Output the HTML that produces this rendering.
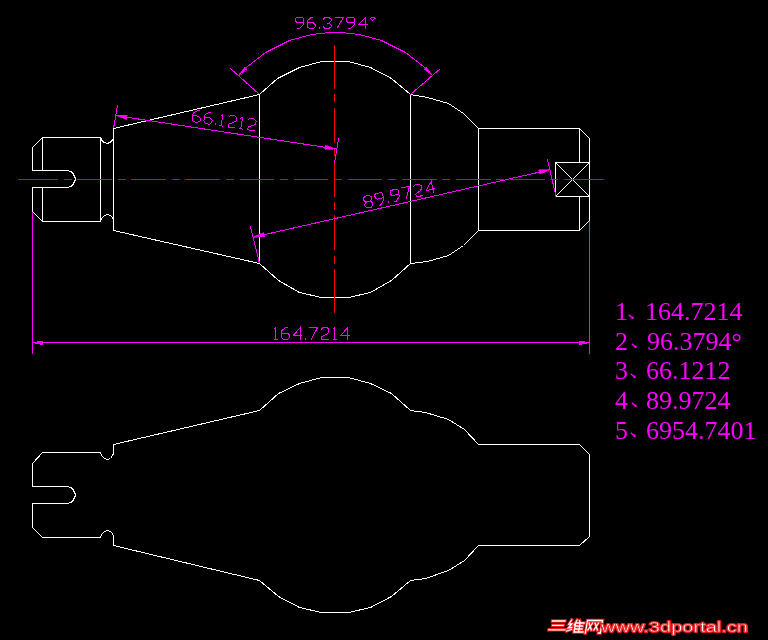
<!DOCTYPE html>
<html><head><meta charset="utf-8">
<style>
html,body{margin:0;padding:0;background:#000;}
body{width:768px;height:640px;overflow:hidden;position:relative;}
svg{position:absolute;left:0;top:0;}
.t{position:absolute;font-family:"Liberation Serif",serif;font-size:26px;color:#ff00ff;white-space:pre;line-height:1;will-change:transform;}
.wm{position:absolute;font-family:"Liberation Sans",sans-serif;font-weight:bold;font-style:italic;font-size:15px;color:#fff;-webkit-text-stroke:0;white-space:pre;}
</style></head><body>
<svg width="768" height="640" viewBox="0 0 768 640" shape-rendering="crispEdges" stroke-width="1">
<polygon points="42.50,137.50 100.50,137.50 101.50,139.50 102.50,141.50 104.50,142.50 107.50,143.50 109.50,142.50 111.50,141.50 112.50,139.50 113.50,138.50 113.50,128.50 259.50,94.50 277.50,78.50 299.50,67.50 321.50,61.50 348.50,61.50 370.50,67.50 391.50,78.50 410.50,94.50 427.50,97.50 448.50,103.50 463.50,113.50 478.50,128.50 579.50,128.50 589.50,138.50 589.50,220.50 579.50,230.50 478.50,230.50 463.50,245.50 448.50,255.50 427.50,261.50 410.50,263.50 391.50,280.50 370.50,292.50 348.50,297.50 321.50,297.50 299.50,292.50 278.50,280.50 259.50,263.50 113.50,230.50 113.50,219.50 112.50,217.50 110.50,215.50 107.50,214.50 104.50,215.50 101.50,218.50 100.50,221.50 42.50,221.50 32.50,211.50 32.50,187.50 67.50,187.50 70.50,186.50 72.50,185.50 73.50,183.50 74.50,181.50 75.50,179.50 75.50,178.50 74.50,176.50 73.50,174.50 72.50,172.50 70.50,171.50 67.50,170.50 32.50,170.50 32.50,147.50" fill="none" stroke="#ffffff"/>
<line x1="42.5" y1="137.5" x2="42.5" y2="170.5" stroke="#ffffff"/>
<line x1="42.5" y1="187.5" x2="42.5" y2="221.5" stroke="#ffffff"/>
<line x1="100.5" y1="137.5" x2="100.5" y2="221.5" stroke="#ffffff"/>
<line x1="113.5" y1="138.5" x2="113.5" y2="219.5" stroke="#ffffff"/>
<line x1="259.5" y1="94.5" x2="259.5" y2="263.5" stroke="#ffffff"/>
<line x1="410.5" y1="94.5" x2="410.5" y2="263.5" stroke="#ffffff"/>
<line x1="478.5" y1="128.5" x2="478.5" y2="230.5" stroke="#ffffff"/>
<line x1="579.5" y1="128.5" x2="579.5" y2="162.5" stroke="#ffffff"/>
<line x1="579.5" y1="196.5" x2="579.5" y2="230.5" stroke="#ffffff"/>
<polygon points="555.50,162.50 589.50,162.50 589.50,196.50 555.50,196.50" fill="none" stroke="#ffffff"/>
<line x1="555.5" y1="162.5" x2="589.5" y2="196.5" stroke="#ffffff"/>
<line x1="589.5" y1="162.5" x2="555.5" y2="196.5" stroke="#ffffff"/>
<polygon points="42.50,452.50 100.50,452.50 101.50,455.50 104.50,458.50 107.50,459.50 110.50,458.50 112.50,455.50 113.50,453.50 113.50,444.50 259.50,410.50 278.50,393.50 299.50,383.50 321.50,377.50 348.50,377.50 370.50,383.50 391.50,393.50 410.50,410.50 425.50,412.50 448.50,419.50 464.50,429.50 478.50,444.50 579.50,444.50 589.50,454.50 589.50,536.50 579.50,545.50 478.50,545.50 464.50,560.50 448.50,570.50 425.50,578.50 410.50,580.50 391.50,596.50 370.50,607.50 348.50,612.50 321.50,612.50 299.50,607.50 278.50,596.50 259.50,580.50 113.50,545.50 113.50,536.50 112.50,533.50 110.50,531.50 107.50,530.50 104.50,531.50 101.50,534.50 100.50,537.50 42.50,537.50 32.50,527.50 32.50,503.50 67.50,503.50 70.50,502.50 72.50,501.50 73.50,499.50 74.50,497.50 75.50,495.50 75.50,494.50 74.50,492.50 73.50,490.50 72.50,488.50 70.50,487.50 67.50,486.50 32.50,486.50 32.50,463.50" fill="none" stroke="#ffffff"/>
<rect x="18" y="179" width="40" height="1" fill="#ff0000"/>
<rect x="64" y="179" width="8" height="1" fill="#ff0000"/>
<rect x="77" y="179" width="35" height="1" fill="#ff0000"/>
<rect x="118" y="179" width="8" height="1" fill="#ff0000"/>
<rect x="131" y="179" width="35" height="1" fill="#ff0000"/>
<rect x="172" y="179" width="8" height="1" fill="#ff0000"/>
<rect x="185" y="179" width="35" height="1" fill="#ff0000"/>
<rect x="226" y="179" width="8" height="1" fill="#ff0000"/>
<rect x="240" y="179" width="34" height="1" fill="#ff0000"/>
<rect x="280" y="179" width="8" height="1" fill="#ff0000"/>
<rect x="294" y="179" width="34" height="1" fill="#ff0000"/>
<rect x="334" y="179" width="8" height="1" fill="#ff0000"/>
<rect x="348" y="179" width="34" height="1" fill="#ff0000"/>
<rect x="388" y="179" width="8" height="1" fill="#ff0000"/>
<rect x="402" y="179" width="35" height="1" fill="#ff0000"/>
<rect x="442" y="179" width="8" height="1" fill="#ff0000"/>
<rect x="456" y="179" width="35" height="1" fill="#ff0000"/>
<rect x="496" y="179" width="8" height="1" fill="#ff0000"/>
<rect x="510" y="179" width="35" height="1" fill="#ff0000"/>
<rect x="550" y="179" width="8" height="1" fill="#ff0000"/>
<rect x="564" y="179" width="40" height="1" fill="#ff0000"/>
<rect x="334" y="45" width="1" height="44" fill="#ff0000"/>
<rect x="334" y="94" width="1" height="8" fill="#ff0000"/>
<rect x="334" y="108" width="1" height="35" fill="#ff0000"/>
<rect x="334" y="148" width="1" height="8" fill="#ff0000"/>
<rect x="334" y="161" width="1" height="36" fill="#ff0000"/>
<rect x="334" y="202" width="1" height="8" fill="#ff0000"/>
<rect x="334" y="215" width="1" height="35" fill="#ff0000"/>
<rect x="334" y="256" width="1" height="8" fill="#ff0000"/>
<rect x="334" y="269" width="1" height="44" fill="#ff0000"/>
<line x1="32.5" y1="211.5" x2="32.5" y2="353.5" stroke="#ff00ff"/>
<line x1="589.5" y1="220.5" x2="589.5" y2="353.5" stroke="#ff00ff"/>
<line x1="32.5" y1="342.5" x2="589.5" y2="342.5" stroke="#ff00ff"/>
<rect x="37" y="341" width="6" height="1" fill="#ff00ff"/>
<rect x="35" y="342" width="8" height="1" fill="#ff00ff"/>
<rect x="35" y="343" width="8" height="1" fill="#ff00ff"/>
<rect x="40" y="344" width="3" height="1" fill="#ff00ff"/>
<rect x="579" y="341" width="6" height="1" fill="#ff00ff"/>
<rect x="579" y="342" width="9" height="1" fill="#ff00ff"/>
<rect x="579" y="343" width="8" height="1" fill="#ff00ff"/>
<rect x="579" y="344" width="3" height="1" fill="#ff00ff"/>
<line x1="113.5" y1="128.5" x2="117.5" y2="105.5" stroke="#ff00ff"/>
<line x1="334.5" y1="163.5" x2="338.5" y2="138.5" stroke="#ff00ff"/>
<line x1="116.0" y1="115.6" x2="335.8" y2="148.9" stroke="#ff00ff"/>
<polygon points="116.00,115.60 126.55,119.42 127.21,115.07" fill="#ff00ff" stroke="#ff00ff" stroke-width="0.6"/>
<polygon points="335.80,148.90 325.25,145.08 324.59,149.43" fill="#ff00ff" stroke="#ff00ff" stroke-width="0.6"/>
<line x1="259.5" y1="263.5" x2="250.5" y2="226.5" stroke="#ff00ff"/>
<line x1="556.0" y1="196.5" x2="547.5" y2="159.5" stroke="#ff00ff"/>
<line x1="253.5" y1="237.1" x2="550.0" y2="169.7" stroke="#ff00ff"/>
<polygon points="253.50,237.10 264.71,236.81 263.74,232.52" fill="#ff00ff" stroke="#ff00ff" stroke-width="0.6"/>
<polygon points="550.00,169.70 538.79,169.99 539.76,174.28" fill="#ff00ff" stroke="#ff00ff" stroke-width="0.6"/>
<line x1="259.5" y1="94.5" x2="230.5" y2="68.5" stroke="#ff00ff"/>
<line x1="410.5" y1="94.5" x2="440.5" y2="68.5" stroke="#ff00ff"/>
<polyline points="238.50,75.50 247.50,66.50 265.50,52.50 289.50,40.50 311.50,34.50 329.50,32.50 341.50,32.50 359.50,34.50 381.50,40.50 405.50,52.50 423.50,66.50 432.50,75.50" fill="none" stroke="#ff00ff"/>
<polygon points="238.50,75.50 247.13,69.28 244.72,66.87" fill="#ff00ff" stroke="#ff00ff" stroke-width="0.6"/>
<polygon points="432.50,75.50 426.28,66.87 423.87,69.28" fill="#ff00ff" stroke="#ff00ff" stroke-width="0.6"/>
<g transform="translate(295,17) rotate(0.0) translate(0.5,0.5)" fill="none" stroke="#ff00ff"><path transform="translate(0.00,0)" d="M8,5.04 L1.5,5.04 L0,3.67 L0,0.92 L1,0.00 L7,0.00 L8,0.92 L8,6.88 L4,11.00 L1.5,11.00"/><path transform="translate(11.80,0)" d="M6,0.00 L4,0.00 L0,3.21 L0,9.17 L2,11.00 L6,11.00 L8,9.17 L8,7.06 L6,5.22 L0,5.22"/><path transform="translate(23.60,0)" d="M0,9.17 L0,11.00"/><path transform="translate(27.60,0)" d="M0,1.83 L2,0.00 L6,0.00 L8,1.83 L8,3.67 L6,5.50 L4,5.50"/><path transform="translate(27.60,0)" d="M6,5.50 L8,7.33 L8,9.17 L6,11.00 L2,11.00 L0,9.17"/><path transform="translate(39.40,0)" d="M0,0.00 L8.5,0.00 L2,11.00"/><path transform="translate(51.20,0)" d="M8,5.04 L1.5,5.04 L0,3.67 L0,0.92 L1,0.00 L7,0.00 L8,0.92 L8,6.88 L4,11.00 L1.5,11.00"/><path transform="translate(63.00,0)" d="M7,11.00 L7,0.00 L0,7.33 L9,7.33"/><path transform="translate(74.80,0)" d="M1,0.00 L3.5,0.00 L4.5,1.01 L2.2,3.12 L0,1.01 Z"/></g>
<g transform="translate(273,327) rotate(0.0) translate(0.5,0.5)" fill="none" stroke="#ff00ff"><path transform="translate(0.00,0)" d="M0,2.00 L2,0.00 L2,12.00"/><path transform="translate(0.00,0)" d="M0,12.00 L4,12.00"/><path transform="translate(8.00,0)" d="M6,0.00 L4,0.00 L0,3.50 L0,10.00 L2,12.00 L6,12.00 L8,10.00 L8,7.70 L6,5.70 L0,5.70"/><path transform="translate(19.80,0)" d="M7,12.00 L7,0.00 L0,8.00 L9,8.00"/><path transform="translate(31.60,0)" d="M0,10.00 L0,12.00"/><path transform="translate(35.60,0)" d="M0,0.00 L8.5,0.00 L2,12.00"/><path transform="translate(47.40,0)" d="M0,2.00 L2,0.00 L6,0.00 L8,2.00 L8,5.00 L5.5,7.00 L1,9.00 L1,12.00 L8,12.00"/><path transform="translate(59.20,0)" d="M0,2.00 L2,0.00 L2,12.00"/><path transform="translate(59.20,0)" d="M0,12.00 L4,12.00"/><path transform="translate(67.20,0)" d="M7,12.00 L7,0.00 L0,8.00 L9,8.00"/></g>
<g transform="translate(193.27,109.13) rotate(8.48) translate(0.5,0.5)" fill="none" stroke="#ff00ff"><path transform="translate(0.00,0)" d="M6,0.00 L4,0.00 L0,3.50 L0,10.00 L2,12.00 L6,12.00 L8,10.00 L8,7.70 L6,5.70 L0,5.70"/><path transform="translate(11.80,0)" d="M6,0.00 L4,0.00 L0,3.50 L0,10.00 L2,12.00 L6,12.00 L8,10.00 L8,7.70 L6,5.70 L0,5.70"/><path transform="translate(23.60,0)" d="M0,10.00 L0,12.00"/><path transform="translate(27.60,0)" d="M0,2.00 L2,0.00 L2,12.00"/><path transform="translate(27.60,0)" d="M0,12.00 L4,12.00"/><path transform="translate(35.60,0)" d="M0,2.00 L2,0.00 L6,0.00 L8,2.00 L8,5.00 L5.5,7.00 L1,9.00 L1,12.00 L8,12.00"/><path transform="translate(47.40,0)" d="M0,2.00 L2,0.00 L2,12.00"/><path transform="translate(47.40,0)" d="M0,12.00 L4,12.00"/><path transform="translate(55.40,0)" d="M0,2.00 L2,0.00 L6,0.00 L8,2.00 L8,5.00 L5.5,7.00 L1,9.00 L1,12.00 L8,12.00"/></g>
<g transform="translate(362.36,196.29) rotate(-12.7) translate(0.5,0.5)" fill="none" stroke="#ff00ff"><path transform="translate(0.00,0)" d="M2,0.00 L6,0.00 L8,2.00 L8,4.00 L6,6.00 L2,6.00 L0,8.00 L0,10.00 L2,12.00 L6,12.00 L8,10.00 L8,8.00 L6,6.00"/><path transform="translate(0.00,0)" d="M2,6.00 L0,4.00 L0,2.00 L2,0.00"/><path transform="translate(11.80,0)" d="M8,5.50 L1.5,5.50 L0,4.00 L0,1.00 L1,0.00 L7,0.00 L8,1.00 L8,7.50 L4,12.00 L1.5,12.00"/><path transform="translate(23.60,0)" d="M0,10.00 L0,12.00"/><path transform="translate(27.60,0)" d="M8,5.50 L1.5,5.50 L0,4.00 L0,1.00 L1,0.00 L7,0.00 L8,1.00 L8,7.50 L4,12.00 L1.5,12.00"/><path transform="translate(39.40,0)" d="M0,0.00 L8.5,0.00 L2,12.00"/><path transform="translate(51.20,0)" d="M0,2.00 L2,0.00 L6,0.00 L8,2.00 L8,5.00 L5.5,7.00 L1,9.00 L1,12.00 L8,12.00"/><path transform="translate(63.00,0)" d="M7,12.00 L7,0.00 L0,8.00 L9,8.00"/></g>
</svg>
<div class="t" style="left:615.2px;top:299.23px">1</div>
<div class="t" style="left:644.7px;top:299.23px">164.7214</div>
<svg style="left:627.70px;top:313.50px" width="8" height="8"><path d="M0.8,0.8 L3.5,3.2" stroke="#ff00ff" stroke-width="1.3" fill="none"/><path d="M3,2.6 L5.6,2.6 L5.6,5 L3.6,5 Z" fill="#ff00ff"/></svg>
<div class="t" style="left:615.2px;top:328.83px">2</div>
<div class="t" style="left:646.7px;top:328.83px">96.3794°</div>
<svg style="left:630.70px;top:343.10px" width="8" height="8"><path d="M0.8,0.8 L3.5,3.2" stroke="#ff00ff" stroke-width="1.3" fill="none"/><path d="M3,2.6 L5.6,2.6 L5.6,5 L3.6,5 Z" fill="#ff00ff"/></svg>
<div class="t" style="left:615.2px;top:358.43px">3</div>
<div class="t" style="left:646.0px;top:358.43px">66.1212</div>
<svg style="left:630.00px;top:372.70px" width="8" height="8"><path d="M0.8,0.8 L3.5,3.2" stroke="#ff00ff" stroke-width="1.3" fill="none"/><path d="M3,2.6 L5.6,2.6 L5.6,5 L3.6,5 Z" fill="#ff00ff"/></svg>
<div class="t" style="left:615.2px;top:388.03px">4</div>
<div class="t" style="left:646.3px;top:388.03px">89.9724</div>
<svg style="left:630.70px;top:402.30px" width="8" height="8"><path d="M0.8,0.8 L3.5,3.2" stroke="#ff00ff" stroke-width="1.3" fill="none"/><path d="M3,2.6 L5.6,2.6 L5.6,5 L3.6,5 Z" fill="#ff00ff"/></svg>
<div class="t" style="left:615.2px;top:417.62px">5</div>
<div class="t" style="left:645.8px;top:417.62px">6954.7401</div>
<svg style="left:630.00px;top:431.90px" width="8" height="8"><path d="M0.8,0.8 L3.5,3.2" stroke="#ff00ff" stroke-width="1.3" fill="none"/><path d="M3,2.6 L5.6,2.6 L5.6,5 L3.6,5 Z" fill="#ff00ff"/></svg>
<svg style="left:0;top:0" width="768" height="640">
<g transform="translate(0,632) skewX(-10) translate(0,-632)" fill="none" stroke-linecap="square">
<path d="M550.5,621 L563,621 M551.5,625.3 L562,625.3 M548.5,629.8 L564.5,629.8 M569.5,620 L567.5,624 L570.5,624 L567.5,628 L571,627.5 M566.5,631 L571,629.5 M575,620 L573,625 M574,623 L574,632 M575,623 L582.5,623 M577.5,620.5 L578.5,623 M575,626 L581.5,626 M575,629 L581.5,629 M575,632 L583,632 M578.5,623 L578.5,632 M585.5,633 L585.5,620.5 L600.5,620.5 L600.5,633 L598.5,633 M587.5,623 L591,630 M591,623 L587.5,630 M593.5,623 L597,630 M597,623 L593.5,630" stroke="#ee1c1c" stroke-width="3.4"/>
<path d="M550.5,621 L563,621 M551.5,625.3 L562,625.3 M548.5,629.8 L564.5,629.8 M569.5,620 L567.5,624 L570.5,624 L567.5,628 L571,627.5 M566.5,631 L571,629.5 M575,620 L573,625 M574,623 L574,632 M575,623 L582.5,623 M577.5,620.5 L578.5,623 M575,626 L581.5,626 M575,629 L581.5,629 M575,632 L583,632 M578.5,623 L578.5,632 M585.5,633 L585.5,620.5 L600.5,620.5 L600.5,633 L598.5,633 M587.5,623 L591,630 M591,623 L587.5,630 M593.5,623 L597,630 M597,623 L593.5,630" stroke="#ffffff" stroke-width="1.3"/>
</g>
<g font-family="Liberation Sans" font-size="15.5">
<text x="601" y="632" fill="#ee1c1c" stroke="#ee1c1c" stroke-width="2.2" stroke-linejoin="round" textLength="147" lengthAdjust="spacingAndGlyphs">www.3dportal.cn</text>
<text x="601" y="632" fill="#ffffff" stroke="#ee1c1c" stroke-width="0.5" textLength="147" lengthAdjust="spacingAndGlyphs">www.3dportal.cn</text>
</g></svg></body></html>
